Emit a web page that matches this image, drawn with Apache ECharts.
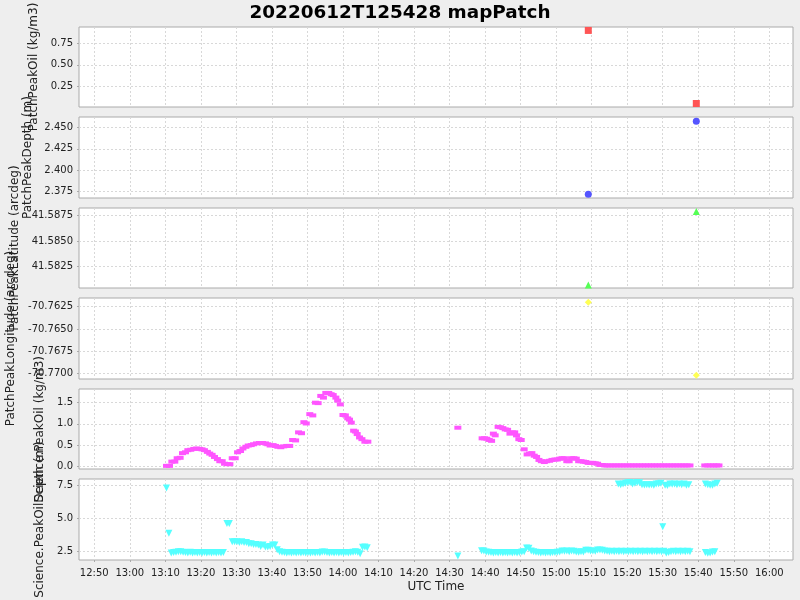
<!DOCTYPE html>
<html><head><meta charset="utf-8">
<script src="https://cdn.jsdelivr.net/npm/echarts@6/dist/echarts.min.js"></script>
<style>html,body{margin:0;padding:0;background:#eeeeee}#c{width:800px;height:600px}</style>
</head><body><div id="c"></div>
<script>
// ---------------- DATA ----------------
const chartTitle = '20220612T125428 mapPatch';
const xRange = ['12:45:42', '16:06:40'];
const xTickLabels = ['12:50','13:00','13:10','13:20','13:30','13:40','13:50','14:00','14:10','14:20','14:30','14:40','14:50','15:00','15:10','15:20','15:30','15:40','15:50','16:00'];

const patchTimes = ['15:09:03', '15:39:27'];
const patchPeakOil = [0.90, 0.05];
const patchPeakDepth = [2.372, 2.457];
const patchPeakLatitude = [41.58065, 41.58792];
const patchPeakLongitude = [-70.76200, -70.77023];

const sciOilTimes = [
 '13:10:20','13:11:10','13:11:50','13:12:40','13:13:20','13:14:10','13:14:50','13:15:40','13:16:20','13:17:10',
 '13:18:00','13:18:50','13:19:40','13:20:20','13:21:00','13:21:50','13:22:30','13:23:10','13:23:50','13:24:40',
 '13:25:20','13:26:00','13:26:40','13:27:30','13:28:10','13:28:50','13:29:40','13:30:20','13:31:10','13:31:50',
 '13:32:40','13:33:20','13:34:10','13:34:50','13:35:40','13:36:30','13:37:20','13:38:10','13:38:50','13:39:30',
 '13:40:20','13:41:00','13:41:40','13:42:30','13:43:20','13:44:10','13:45:00','13:45:50','13:46:40','13:47:30',
 '13:48:20','13:49:00','13:49:40','13:50:40','13:51:30','13:52:15','13:53:00','13:53:45','13:54:30','13:55:10',
 '13:56:00','13:56:40','13:57:15','13:58:00','13:58:30','13:59:15','14:00:00','14:00:40','14:01:20','14:01:50',
 '14:02:20','14:03:00','14:03:30','14:04:00','14:04:40','14:05:20','14:06:10','14:07:00',
 '14:32:20',
 '14:39:10','14:39:50','14:40:30','14:41:10','14:41:50','14:42:20','14:42:50','14:43:40','14:44:20','14:45:00',
 '14:45:40','14:46:20','14:47:00','14:47:40','14:48:20','14:48:50','14:49:30','14:50:10','14:51:00','14:51:50',
 '14:52:30','14:53:10','14:53:50','14:54:30','14:55:10','14:55:50','14:56:40','14:57:20','14:58:10','14:58:50',
 '14:59:40','15:00:20','15:01:00','15:01:40','15:02:20','15:03:00','15:03:40','15:04:20','15:05:00','15:05:40',
 '15:06:20','15:07:00','15:07:40','15:08:20','15:09:00','15:09:40','15:10:20','15:11:00','15:11:40','15:12:20',
 '15:13:00','15:13:40','15:14:20','15:15:10','15:16:00','15:16:50','15:17:40','15:18:30','15:19:20','15:20:10',
 '15:21:00','15:21:50','15:22:40','15:23:30','15:24:20','15:25:10','15:26:00','15:26:50','15:27:40','15:28:30',
 '15:29:20','15:30:10','15:31:00','15:31:50','15:32:40','15:33:30','15:34:20','15:35:10','15:36:00','15:36:50',
 '15:37:40',
 '15:41:50','15:42:40','15:43:30','15:44:20','15:45:10','15:45:50'
];
const sciOilValues = [
 0.01,0.01,0.11,0.11,0.19,0.20,0.31,0.33,0.38,0.39,
 0.41,0.42,0.41,0.40,0.38,0.34,0.30,0.27,0.22,0.17,
 0.12,0.12,0.06,0.05,0.05,0.19,0.19,0.33,0.36,0.42,
 0.46,0.49,0.50,0.52,0.54,0.55,0.55,0.54,0.52,0.49,
 0.50,0.48,0.46,0.45,0.47,0.48,0.48,0.62,0.61,0.80,
 0.78,1.04,1.01,1.23,1.20,1.50,1.49,1.66,1.62,1.73,
 1.73,1.70,1.68,1.62,1.55,1.46,1.21,1.20,1.13,1.10,
 1.03,0.84,0.82,0.76,0.68,0.64,0.58,0.58,
 0.91,
 0.66,0.66,0.65,0.62,0.60,0.77,0.73,0.93,0.92,0.90,
 0.87,0.86,0.77,0.80,0.80,0.73,0.64,0.62,0.40,0.28,
 0.30,0.31,0.25,0.22,0.15,0.12,0.10,0.12,0.13,0.15,
 0.16,0.16,0.18,0.19,0.19,0.12,0.12,0.19,0.19,0.18,
 0.12,0.12,0.11,0.10,0.08,0.08,0.08,0.07,0.06,0.03,
 0.03,0.02,0.02,0.02,0.02,0.02,0.02,0.02,0.02,0.02,
 0.02,0.02,0.02,0.02,0.02,0.02,0.02,0.02,0.02,0.02,
 0.02,0.02,0.02,0.02,0.02,0.02,0.02,0.02,0.02,0.02,
 0.02,
 0.02,0.02,0.02,0.02,0.02,0.02
];

const sciDepthTimes = [
 '13:10:20','13:11:00','13:11:40','13:12:20','13:13:00','13:13:40','13:14:20','13:15:00','13:15:40','13:16:20',
 '13:17:00','13:17:40','13:18:20','13:19:00','13:19:40','13:20:20','13:21:00','13:21:40','13:22:20','13:23:00',
 '13:23:40','13:24:20','13:25:00','13:25:40','13:26:20','13:27:20','13:28:00','13:28:50','13:29:30','13:30:10',
 '13:30:50','13:31:30','13:32:10','13:32:50','13:33:30','13:34:10','13:34:50','13:35:30','13:36:10','13:36:50',
 '13:37:30','13:38:10','13:38:50','13:39:30','13:40:10','13:40:50','13:41:30','13:42:10','13:42:50','13:43:30',
 '13:44:10','13:44:50','13:45:30','13:46:10','13:46:50','13:47:30','13:48:10','13:48:50','13:49:30','13:50:10',
 '13:50:50','13:51:30','13:52:10','13:52:50','13:53:30','13:54:10','13:54:50','13:55:30','13:56:10','13:56:50',
 '13:57:30','13:58:10','13:58:50','13:59:30','14:00:10','14:00:50','14:01:30','14:02:10','14:02:50','14:03:30',
 '14:04:10','14:04:50','14:05:30','14:06:10','14:06:50',
 '14:32:20',
 '14:39:00','14:39:40','14:40:20','14:41:00','14:41:40','14:42:20','14:43:00','14:43:40','14:44:20','14:45:00',
 '14:45:40','14:46:20','14:47:00','14:47:40','14:48:20','14:49:00','14:49:40','14:50:20','14:51:00','14:51:40',
 '14:52:20','14:53:00','14:53:40','14:54:20','14:55:00','14:55:40','14:56:20','14:57:00','14:57:40','14:58:20',
 '14:59:00','14:59:40','15:00:20','15:01:00','15:01:40','15:02:20','15:03:00','15:03:40','15:04:20','15:05:00',
 '15:05:40','15:06:20','15:07:00','15:07:40','15:08:20','15:09:00','15:09:40','15:10:20','15:11:00','15:11:40',
 '15:12:20','15:13:00','15:13:40','15:14:20','15:15:00','15:15:40','15:16:20','15:17:00','15:17:40','15:18:20',
 '15:19:00','15:19:40','15:20:20','15:21:00','15:21:40','15:22:20','15:23:00','15:23:40','15:24:20','15:25:00',
 '15:25:40','15:26:20','15:27:00','15:27:40','15:28:20','15:29:00','15:29:40','15:30:20','15:31:00','15:31:40',
 '15:32:20','15:33:00','15:33:40','15:34:20','15:35:00','15:35:40','15:36:20','15:37:00','15:37:40',
 '15:17:30','15:18:10','15:18:50','15:19:30','15:20:10','15:20:50','15:21:30','15:22:10','15:22:50','15:23:30',
 '15:24:10','15:24:50','15:25:30','15:26:10','15:26:50','15:27:30','15:28:10','15:28:50','15:29:30','15:30:00',
 '15:30:40','15:31:20','15:32:00','15:32:40','15:33:20','15:34:00','15:34:40','15:35:20','15:36:00','15:36:40',
 '15:37:20',
 '15:42:00','15:42:40','15:43:20','15:44:00','15:44:40','15:45:20',
 '15:42:00','15:42:40','15:43:20','15:44:00','15:44:40'
];
const sciDepthValues = [
 7.30,3.85,2.35,2.38,2.40,2.45,2.45,2.40,2.38,2.35,
 2.40,2.35,2.38,2.35,2.38,2.35,2.38,2.35,2.38,2.35,
 2.38,2.35,2.38,2.35,2.38,4.60,4.60,3.20,3.20,3.20,
 3.15,3.20,3.15,3.15,3.05,3.05,3.00,3.00,2.95,2.85,
 2.95,2.80,2.80,2.85,2.95,2.95,2.60,2.45,2.40,2.38,
 2.35,2.38,2.35,2.38,2.35,2.38,2.35,2.38,2.35,2.38,
 2.35,2.38,2.35,2.38,2.35,2.42,2.42,2.38,2.35,2.38,
 2.35,2.38,2.35,2.38,2.35,2.38,2.35,2.38,2.40,2.45,
 2.40,2.30,2.78,2.80,2.75,
 2.12,
 2.52,2.50,2.42,2.40,2.38,2.35,2.38,2.35,2.38,2.35,
 2.38,2.35,2.38,2.35,2.38,2.35,2.38,2.42,2.45,2.72,
 2.70,2.50,2.45,2.40,2.38,2.35,2.38,2.35,2.38,2.35,
 2.38,2.38,2.40,2.42,2.50,2.48,2.50,2.45,2.50,2.48,
 2.42,2.40,2.45,2.42,2.55,2.55,2.50,2.50,2.48,2.58,
 2.58,2.55,2.50,2.48,2.45,2.48,2.45,2.48,2.45,2.48,
 2.45,2.48,2.45,2.48,2.45,2.48,2.45,2.48,2.45,2.48,
 2.45,2.48,2.45,2.48,2.45,2.48,2.45,2.48,2.35,2.38,
 2.45,2.48,2.45,2.48,2.45,2.48,2.45,2.48,2.45,
 7.60,7.55,7.60,7.65,7.70,7.72,7.60,7.65,7.72,7.70,
 7.55,7.52,7.55,7.52,7.55,7.50,7.60,7.62,7.65,4.35,
 7.50,7.48,7.60,7.58,7.60,7.55,7.60,7.55,7.60,7.50,
 7.55,
 7.60,7.55,7.50,7.50,7.60,7.65,
 2.38,2.32,2.35,2.42,2.45
];

// y tick values and axis ranges per panel
const yTicks = [
 [0.25, 0.50, 0.75],
 [2.375, 2.400, 2.425, 2.450],
 [41.5825, 41.5850, 41.5875],
 [-70.7700, -70.7675, -70.7650, -70.7625],
 [0.0, 0.5, 1.0, 1.5],
 [2.5, 5.0, 7.5]
];
const yRanges = [
 [0.009, 0.94],
 [2.3677, 2.462],
 [41.58036, 41.58826],
 [-70.77064, -70.76152],
 [-0.064, 1.823],
 [1.815, 7.98]
];
const yNames = ['PatchPeakOil (kg/m3)','PatchPeakDepth (m)','PatchPeakLatitude (arcdeg)','PatchPeakLongitude (arcdeg)','Science.PeakOil (kg/m3)','Science.PeakOilDepth (m)'];

// ---------------- BUILD ----------------
const toMs = s => { const p = s.split(':').map(Number); return Date.UTC(2022, 5, 12, p[0], p[1], p[2] || 0); };
const pair = (times, vals) => times.map((t, i) => [toMs(t), vals[i]]);
const xTicks = xTickLabels.map(toMs);
const fmtTime = v => { const d = new Date(v); return String(d.getUTCHours()).padStart(2,'0') + ':' + String(d.getUTCMinutes()).padStart(2,'0'); };

const seriesData = [
 pair(patchTimes, patchPeakOil),
 pair(patchTimes, patchPeakDepth),
 pair(patchTimes, patchPeakLatitude),
 pair(patchTimes, patchPeakLongitude),
 pair(sciOilTimes, sciOilValues),
 pair(sciDepthTimes, sciDepthValues)
];

const tops = [27, 117, 208, 298, 389, 479];
const heights = [80, 81, 80, 81, 80, 81];
const nameGaps = [34, 39, 51, 56, 27, 27];
const decimals = [2, 3, 4, 4, 1, 1];
const colors = ['#FF5555','#5555FF','#55FF55','#FFFF55','#FF55FF','#55FFFF'];
const symbols = ['rect','circle','triangle','diamond','rect','triangle'];
const sizes = [7, 7, 7, 7, [7, 4], 7];
const rotates = [0, 0, 0, 0, 0, 180];
const FONT = 'DejaVu Sans';
const gridLine = { show: true, lineStyle: { color: '#d8d8d8', type: [2, 2], width: 1 } };

const grids = [], xAxes = [], yAxes = [], series = [];
for (let i = 0; i < 6; i++) {
  const last = i === 5;
  grids.push({ left: 79, width: 714, top: tops[i], height: heights[i], show: true,
    containLabel: false, outerBoundsMode: 'none',
    backgroundColor: '#ffffff', borderColor: '#aaaaaa', borderWidth: 1 });
  xAxes.push({ type: 'value', gridIndex: i, min: toMs(xRange[0]), max: toMs(xRange[1]),
    axisLine: { show: false },
    axisTick: { show: last, length: 2, lineStyle: { color: '#aaaaaa' }, customValues: xTicks },
    axisLabel: { show: last, customValues: xTicks, formatter: fmtTime, fontFamily: FONT, fontSize: 10, color: '#222', margin: 8 },
    splitLine: gridLine,
    name: last ? 'UTC Time' : '', nameLocation: 'middle', nameGap: 21,
    nameTextStyle: { fontFamily: FONT, fontSize: 12, color: '#222' } });
  const dec = decimals[i];
  yAxes.push({ type: 'value', gridIndex: i, min: yRanges[i][0], max: yRanges[i][1],
    axisLine: { show: false },
    axisTick: { show: true, length: 2, lineStyle: { color: '#aaaaaa' }, customValues: yTicks[i] },
    axisLabel: { customValues: yTicks[i], formatter: v => Number(v).toFixed(dec), fontFamily: FONT, fontSize: 10, color: '#222', margin: 6 },
    splitLine: gridLine,
    name: yNames[i], nameLocation: 'middle', nameGap: nameGaps[i], nameRotate: 90,
    nameTextStyle: { fontFamily: FONT, fontSize: 12, color: '#222' } });
  series.push({ type: 'scatter', xAxisIndex: i, yAxisIndex: i, data: seriesData[i],
    symbol: symbols[i], symbolSize: sizes[i], symbolRotate: rotates[i],
    itemStyle: { color: colors[i], opacity: 1 }, clip: true, animation: false });
}

const chart = echarts.init(document.getElementById('c'), null, { renderer: 'canvas' });
chart.setOption({
  backgroundColor: '#eeeeee',
  animation: false,
  title: { text: chartTitle, left: 'center', top: -1,
    textStyle: { fontFamily: FONT, fontSize: 18.4, fontWeight: 'bold', color: '#000' } },
  grid: grids, xAxis: xAxes, yAxis: yAxes, series: series
});
</script></body></html>
